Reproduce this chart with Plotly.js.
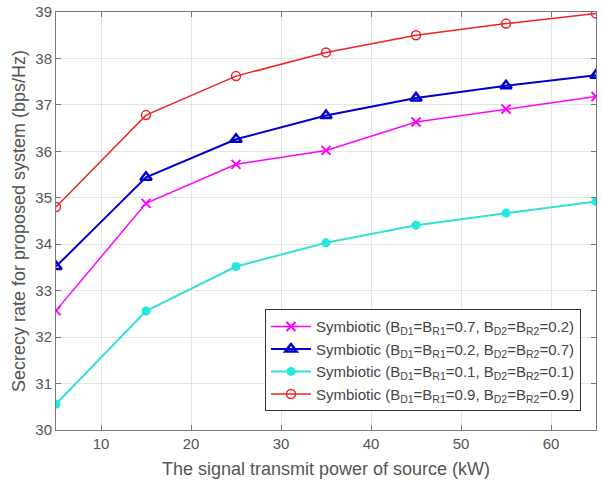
<!DOCTYPE html>
<html>
<head>
<meta charset="utf-8">
<script src="https://cdn.plot.ly/plotly-3.0.1.min.js"></script>
<style>html,body{margin:0;padding:0;background:#fff;}#chart{width:602px;height:488px;}</style>
</head>
<body>
<div id="chart"></div>
<script>
const power = [5, 15, 25, 35, 45, 55, 65];
const magentaVals = [32.57, 34.88, 35.72, 36.02, 36.63, 36.91, 37.18];
const blueVals = [33.52, 35.44, 36.26, 36.77, 37.15, 37.41, 37.64];
const cyanVals = [30.56, 32.56, 33.52, 34.03, 34.41, 34.67, 34.92];
const redVals = [34.80, 36.78, 37.62, 38.13, 38.50, 38.75, 38.97];
const names = [
  "Symbiotic (B<sub>D1</sub>=B<sub>R1</sub>=0.7, B<sub>D2</sub>=B<sub>R2</sub>=0.2)",
  "Symbiotic (B<sub>D1</sub>=B<sub>R1</sub>=0.2, B<sub>D2</sub>=B<sub>R2</sub>=0.7)",
  "Symbiotic (B<sub>D1</sub>=B<sub>R1</sub>=0.1, B<sub>D2</sub>=B<sub>R2</sub>=0.1)",
  "Symbiotic (B<sub>D1</sub>=B<sub>R1</sub>=0.9, B<sub>D2</sub>=B<sub>R2</sub>=0.9)"
];
const xTicks = [10, 20, 30, 40, 50, 60];
const yTicks = [30, 31, 32, 33, 34, 35, 36, 37, 38, 39];

const traces = [
  {x: power, y: magentaVals, name: names[0], mode: 'lines+markers',
   line: {color: '#ff00ff', width: 1.5},
   marker: {symbol: 'x-thin-open', size: 9, color: '#ff00ff', line: {color: '#ff00ff', width: 2}}},
  {x: power, y: blueVals, name: names[1], mode: 'lines+markers',
   line: {color: '#0000cc', width: 2},
   marker: {symbol: 'triangle-up-open', size: 10, color: '#0000cc', line: {color: '#0000cc', width: 2.5}}},
  {x: power, y: cyanVals, name: names[2], mode: 'lines+markers',
   line: {color: '#33e0d8', width: 2},
   marker: {symbol: 'circle', size: 9, color: '#22e8e0'}},
  {x: power, y: redVals, name: names[3], mode: 'lines+markers',
   line: {color: '#ee2222', width: 1.5},
   marker: {symbol: 'circle-open', size: 9, color: '#ee2222', line: {color: '#ee2222', width: 1.5}}}
];

const layout = {
  width: 602, height: 488,
  margin: {l: 56, r: 6, t: 12, b: 58},
  paper_bgcolor: '#ffffff', plot_bgcolor: '#ffffff',
  font: {family: 'Liberation Sans, Arial, sans-serif', size: 12, color: '#444'},
  showlegend: true,
  legend: {x: 0.387, y: 0.045, xanchor: 'left', yanchor: 'bottom',
    bgcolor: '#ffffff', bordercolor: '#333', borderwidth: 1,
    font: {size: 15, color: '#444'}, tracegroupgap: 0, itemwidth: 40},
  xaxis: {range: [5, 65], tickvals: xTicks, ticktext: xTicks.map(String),
    showgrid: true, gridcolor: '#e4e4e4', gridwidth: 1,
    showline: true, linecolor: '#777', linewidth: 1, mirror: 'ticks',
    ticks: 'inside', ticklen: 5, tickcolor: '#777', zeroline: false,
    tickfont: {size: 15, color: '#555'},
    title: {text: 'The signal transmit power of source (kW)', font: {size: 18, color: '#555'}, standoff: 11}},
  yaxis: {range: [30, 39], tickvals: yTicks, ticktext: yTicks.map(String),
    showgrid: true, gridcolor: '#e4e4e4', gridwidth: 1,
    showline: true, linecolor: '#777', linewidth: 1, mirror: 'ticks',
    ticks: 'inside', ticklen: 5, tickcolor: '#777', zeroline: false,
    tickfont: {size: 15, color: '#555'},
    title: {text: 'Secrecy rate for proposed system (bps/Hz)', font: {size: 18, color: '#555'}, standoff: 5}}
};

Plotly.newPlot('chart', traces, layout, {displayModeBar: false, staticPlot: true});
</script>
</body>
</html>
